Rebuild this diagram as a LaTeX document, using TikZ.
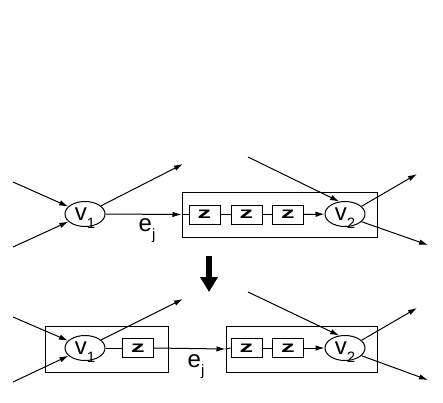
\documentclass[tikz,border=0pt]{standalone}
\usepackage{fontspec}
\setmainfont{Liberation Sans}
\usepackage{graphicx}
\usetikzlibrary{arrows.meta,shapes.geometric}
\newcommand{\idx}[1]{\raisebox{-8pt}[0pt][0pt]{\fontsize{15}{15}\selectfont #1}}
\newcommand{\zz}{\scalebox{1.7}[1]{\fontsize{16}{16}\selectfont\bfseries z}}

\begin{document}
\begin{tikzpicture}
 [x=1pt,y=-1pt,line width=1pt,>={Latex[length=9pt,width=5.5pt]},
  every node/.style={font=\fontsize{24}{24}\selectfont},
  vert/.style={draw,ellipse,minimum width=40pt,minimum height=25pt,inner sep=0pt},
  zbox/.style={draw,minimum width=31pt,minimum height=19pt,inner sep=0pt},
  grp/.style={draw,inner sep=0pt}]
 \useasboundingbox (0,0) rectangle (443,402);
 % before
 \node[grp,minimum width=195pt,minimum height=45pt] (gt) at (279.5,214.5) {};
 \node[vert] (v1t) at (85,214) {v\idx{1}};
 \node[vert] (v2t) at (345,214) {v\idx{2}};
 \foreach \name/\x in {zt1/204.5,zt2/246.5,zt3/288}
  \node[zbox] (\name) at (\x,214.5) {\zz};
 \foreach \name/\x/\y in {pt1/13/182,pt2/13/247,pt3/183/164,pt4/248/157,pt5/417/174,pt6/428/245}
  \coordinate (\name) at (\x,\y);
 \draw[->] (pt1) -- (v1t);
 \draw[->] (pt2) -- (v1t);
 \draw[->] (v1t) -- (pt3);
 \draw[->] (v1t.east) -- (gt.west);
 \draw (gt.west) -- (zt1.west);
 \draw (zt1) -- (zt2) (zt2) -- (zt3);
 \draw[->] (zt3) -- (v2t);
 \draw[->] (pt4) -- (v2t.115);
 \draw[->] (v2t.25) -- (pt5);
 \draw[->] (v2t.-25) -- (pt6);
 \node (ejt) at (147,225) {e\idx{j}};
 % big arrow
 \coordinate (dn1) at (209,256);
 \coordinate (dn2) at (209,292);
 \draw[line width=6pt,-{Triangle[length=15pt,width=17pt]}] (dn1) -- (dn2);
 % after
 \node[grp,minimum width=123pt,minimum height=46pt] (gl) at (106.5,349) {};
 \node[grp,minimum width=151pt,minimum height=46pt] (gr) at (301.5,349) {};
 \node[vert] (v1b) at (85,348) {v\idx{1}};
 \node[vert] (v2b) at (345,348) {v\idx{2}};
 \node[zbox] (zb0) at (138,348) {\zz};
 \foreach \name/\x in {zb1/246.5,zb2/288}
  \node[zbox] (\name) at (\x,348) {\zz};
 \foreach \name/\x/\y in {pb1/13/317,pb2/13/382,pb3/183/299,pb4/248/292,pb5/417/308,pb6/428/380}
  \coordinate (\name) at (\x,\y);
 \draw[->] (pb1) -- (v1b);
 \draw[->] (pb2) -- (v1b);
 \draw[->] (v1b) -- (pb3);
 \draw (v1b) -- (zb0);
 \draw[->] (zb0.east) -- (gr.west);
 \draw (gr.west) -- (zb1.west);
 \draw (zb1) -- (zb2);
 \draw[->] (zb2) -- (v2b);
 \draw[->] (pb4) -- (v2b.115);
 \draw[->] (v2b.25) -- (pb5);
 \draw[->] (v2b.-25) -- (pb6);
 \node (ejb) at (196,361) {e\idx{j}};
\end{tikzpicture}
\end{document}
